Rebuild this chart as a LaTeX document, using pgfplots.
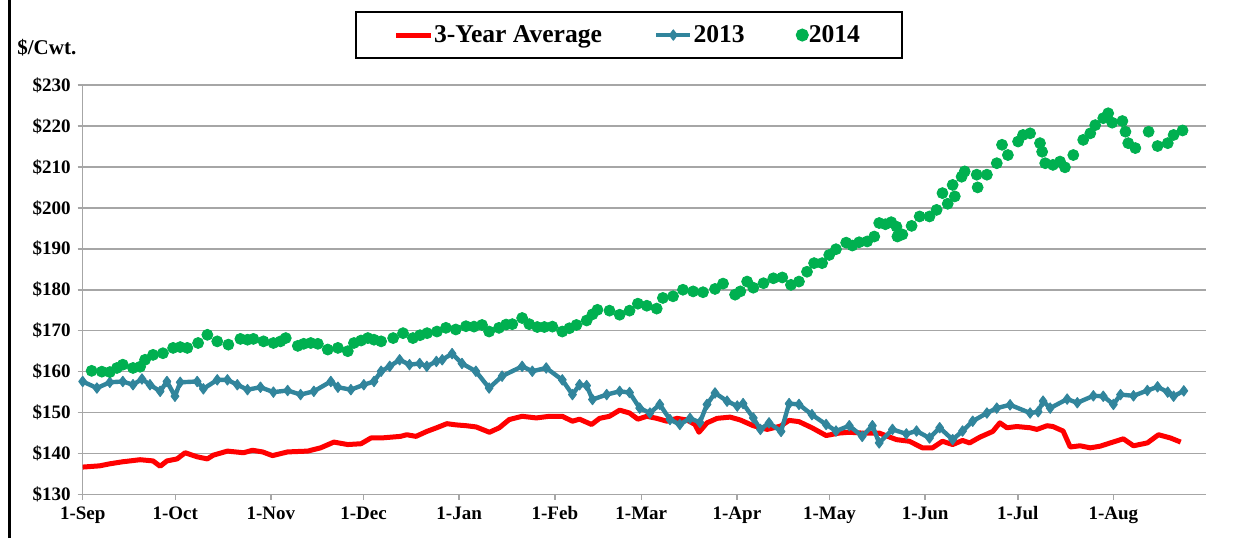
\documentclass[border=0pt]{standalone}
\usepackage{fontspec}
\setmainfont{Liberation Serif}
\usepackage{pgfplots}
\pgfplotsset{compat=1.18}
\definecolor{avgred}{HTML}{FF0000}
\definecolor{teal13}{HTML}{31859C}
\definecolor{green14}{HTML}{00B050}
\definecolor{gridgray}{HTML}{A6A6A6}
\begin{document}
\begin{tikzpicture}
\useasboundingbox (0pt,0pt) rectangle (621.5pt,269pt);
\draw[black, line width=1.5pt] (4.5pt,0pt) -- (4.5pt,269pt);
\node[anchor=west, inner sep=0pt, font=\fontsize{10.5}{12}\selectfont\bfseries] at (8.5pt,245pt) {\$/Cwt.};
\begin{axis}[
  at={(41.35pt,21.75pt)}, anchor=south west,
  scale only axis, width=561.65pt, height=204.75pt,
  xmin=0, xmax=364, ymin=130, ymax=230,
  axis x line*=bottom, axis y line*=left,
  axis line style={gridgray, line width=0.75pt, -},
  ymajorgrids, grid style={gridgray, line width=0.75pt},
  tick style={gridgray, line width=0.75pt},
  tick align=outside, major tick length=2.5pt,
  xtick={0,30,61,91,122,153,181,212,242,273,303,334},
  xticklabels={1-Sep,1-Oct,1-Nov,1-Dec,1-Jan,1-Feb,1-Mar,1-Apr,1-May,1-Jun,1-Jul,1-Aug},
  ytick={130,140,150,160,170,180,190,200,210,220,230},
  yticklabels={\$130,\$140,\$150,\$160,\$170,\$180,\$190,\$200,\$210,\$220,\$230},
  ticklabel style={font=\fontsize{9.5}{11}\selectfont\bfseries, text=black},
  legend style={at={(0.4863,1.122)}, anchor=center, draw=black, line width=1pt,
    legend columns=3, font=\fontsize{12.8}{14}\selectfont\bfseries,
    /tikz/every even column/.append style={column sep=24pt},
    /tikz/every odd column/.append style={column sep=-1.5pt},
    inner xsep=19pt, inner ysep=4.5pt},
  legend cell align=left,
]
\addplot[avgred, line width=2.5pt, no markers, line join=round] coordinates {
(0,136.7)(5.5,137.0)(8.8,137.5)(13,138.0)(15.3,138.2)(18.6,138.5)(22.8,138.2)(25.1,136.9)(27.3,138.2)(30.6,138.7)(33.2,140.2)(37.1,139.2)(40.4,138.7)(42.3,139.6)(46.9,140.6)(52.1,140.2)(55,140.8)(58.3,140.4)(61.5,139.5)(66.4,140.4)(72.9,140.6)(77.1,141.4)(81.4,142.8)(85.9,142.2)(90.2,142.4)(93.4,143.8)(96.7,143.8)(103,144.2)(105,144.6)(108,144.2)(111.5,145.4)(114.7,146.3)(118,147.3)(121,147.0)(124.3,146.8)(127.5,146.5)(131.8,145.2)(135,146.3)(138.2,148.3)(142.4,149.1)(147,148.7)(151.2,149.1)(155.4,149.1)(158.7,147.9)(161,148.4)(164.9,147.1)(167.5,148.6)(170.7,149.1)(174,150.6)(177.2,149.9)(179.9,148.4)(182.8,149.1)(186,148.6)(189.3,147.9)(192.6,148.6)(195.8,148.2)(198.4,147.1)(199.7,145.2)(202.3,147.5)(205.6,148.6)(209.8,148.9)(213.1,148.2)(217.3,146.8)(221.8,145.9)(226.1,146.7)(228.9,148.1)(232.1,147.8)(236.3,146.3)(240.9,144.4)(245.1,145.0)(248.4,145.2)(252.6,145.0)(258.1,145.0)(263.7,143.4)(267.9,143.0)(272.1,141.4)(275.4,141.4)(278.6,143.0)(281.9,142.2)(285.1,143.2)(287.4,142.6)(290.7,144.0)(294.9,145.4)(297.2,147.5)(299.5,146.3)(302.7,146.6)(307,146.3)(309.2,145.9)(312.5,146.8)(314.4,146.6)(317.7,145.5)(320,141.6)(323.2,141.9)(326.5,141.4)(329.7,141.8)(333,142.6)(337.2,143.6)(340.5,141.9)(345,142.6)(348.6,144.6)(352.5,143.8)(355.8,142.8)
};
\addlegendentry{3-Year Average}
\addplot[teal13, line width=2.2pt, line join=round, mark=diamond*, mark size=2.6pt, mark options={solid, line width=0.5pt, fill=teal13, draw=teal13}] coordinates {
(0,157.6)(4.6,156.0)(8.8,157.4)(13,157.6)(16.3,156.8)(19.2,158.2)(21.8,156.8)(25.1,155.2)(27.3,157.6)(29.9,154.0)(31.6,157.4)(37.1,157.6)(39.1,155.8)(43.6,158.0)(46.9,158.0)(50.1,156.8)(53.4,155.6)(57.6,156.2)(61.8,155.0)(66.4,155.4)(70.6,154.4)(74.9,155.2)(80.4,157.6)(82.7,156.2)(86.9,155.6)(91.1,156.8)(94.4,157.6)(96.7,160.1)(99.5,161.3)(102.7,162.9)(105.9,161.7)(109.2,162.0)(111.5,161.3)(114.6,162.5)(116.5,162.9)(119.7,164.4)(122.9,162.0)(127.4,160.1)(131.7,156.0)(135.9,158.9)(142.4,161.3)(145.7,160.1)(150.2,160.9)(155.4,158.0)(158.7,154.4)(161,156.8)(163.3,156.6)(165.2,153.2)(169.8,154.4)(174,155.2)(177.2,154.9)(180.5,151.1)(183.8,149.9)(187,152.0)(190.3,148.3)(193.5,147.1)(196.8,148.6)(200,147.6)(202.3,152.0)(204.9,154.8)(208.8,152.8)(212.1,151.6)(214,152.2)(217.3,148.7)(219.6,145.9)(222.4,147.5)(226.3,145.4)(228.9,152.2)(232.1,152.0)(236.3,149.5)(240.9,147.1)(244.1,145.5)(248.4,146.8)(252.6,144.2)(255.9,146.8)(258.1,142.6)(262.4,145.9)(266.9,144.8)(270.2,145.5)(274.4,143.8)(277.7,146.3)(281.9,143.4)(285.1,145.5)(288.4,147.9)(293,149.9)(296.2,151.1)(300.5,151.9)(307,149.9)(309.6,150.2)(311.2,152.8)(313.5,151.1)(319,153.3)(322.3,152.4)(327.5,154.1)(330.7,154.0)(334,152.0)(336.3,154.4)(340.5,154.1)(345,155.4)(348.3,156.3)(351.6,155.0)(353.5,154.0)(356.8,155.3)
};
\addlegendentry{2013}
\addplot[only marks, mark=*, mark size=2.75pt, green14, mark options={fill=green14, draw=green14}] coordinates {
(2.9,160.2)(6.2,160.0)(8.8,159.9)(11.1,160.9)(13,161.7)(16.3,160.9)(18.6,161.2)(20.2,162.9)(22.8,164.1)(26,164.5)(29.3,165.8)(31.6,166.0)(33.9,165.8)(37.4,167.0)(40.4,169.0)(43.6,167.4)(47.2,166.6)(51.1,168.0)(53.4,167.8)(55.3,168.0)(58.6,167.4)(61.8,167.0)(64.1,167.4)(65.8,168.2)(69.7,166.3)(71.6,166.8)(73.9,167.0)(76.2,166.8)(79.4,165.4)(82.7,165.8)(85.9,165.0)(87.9,167.0)(90.2,167.6)(92.4,168.2)(94.4,167.8)(96.7,167.4)(100.6,168.2)(103.8,169.4)(107,168.2)(109.3,168.9)(111.6,169.4)(114.8,169.8)(117.7,170.7)(120.9,170.3)(124.2,171.1)(126.8,171.0)(129.4,171.4)(131.7,169.8)(134.9,170.7)(137.2,171.5)(139.2,171.6)(142.4,173.1)(144.7,171.6)(147.3,170.9)(149.6,170.9)(152.2,171.0)(155.4,169.8)(157.7,170.6)(160,171.4)(163.3,172.5)(165.2,174.0)(166.8,175.1)(170.7,174.9)(174,173.9)(177.2,174.9)(179.9,176.6)(182.8,176.1)(186,175.4)(188,178.0)(191.3,178.4)(194.5,180.0)(197.8,179.6)(201,179.4)(204.9,180.2)(207.5,181.5)(211.4,178.8)(213.1,179.6)(215.3,182.0)(217.3,180.5)(220.6,181.6)(223.8,182.8)(226.7,183.0)(229.5,181.2)(232.1,182.0)(234.7,184.4)(237,186.5)(239.6,186.5)(241.9,188.5)(244.1,189.9)(247.4,191.5)(249.4,190.8)(251.6,191.6)(254.2,191.8)(256.5,193.0)(258.1,196.3)(260.1,196.0)(262,196.5)(263.7,195.4)(264,193.0)(265.6,193.5)(268.6,195.6)(271.2,197.9)(274.4,197.9)(276.7,199.5)(278.6,203.6)(280.3,201.0)(281.9,205.6)(282.6,202.8)(284.8,207.6)(285.8,208.9)(289.7,208.1)(290,205.0)(293,208.1)(296.2,210.9)(297.9,215.4)(299.8,212.9)(303.1,216.2)(304.7,217.8)(307,218.2)(310.2,215.8)(310.9,213.7)(311.9,210.9)(314.4,210.5)(316.7,211.3)(318.3,209.9)(321,212.9)(324.2,216.6)(326.5,218.2)(328.1,220.2)(330.7,221.9)(332.3,223.1)(333.6,220.8)(336.9,221.2)(337.9,218.6)(338.8,215.8)(341.1,214.6)(345.4,218.6)(348.3,215.1)(351.6,215.8)(353.5,217.8)(356.4,218.9)
};
\addlegendentry{2014}
\end{axis}
\end{tikzpicture}
\end{document}
